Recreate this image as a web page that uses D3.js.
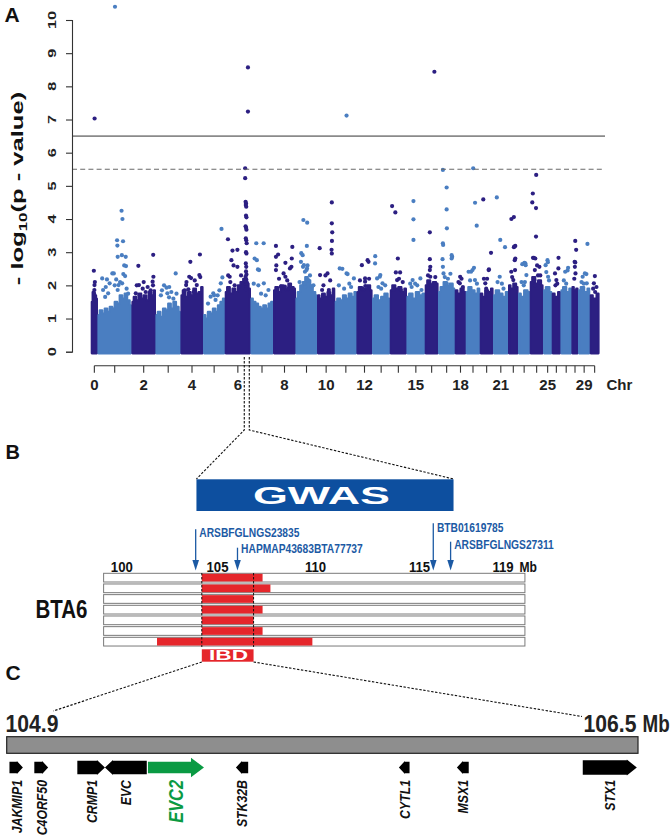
<!DOCTYPE html>
<html><head><meta charset="utf-8">
<script src="https://cdn.jsdelivr.net/npm/d3@7"></script>
<style>
body{margin:0;background:#fff}
svg{display:block}
text{font-family:"Liberation Sans",Arial,Helvetica,sans-serif}
</style>
</head><body>
<svg id="fig" width="672" height="840"></svg>
<script>
// ================= DATA =================
// Panel A: chromosomes 0..30 (0 = unplaced), band widths as drawn
const chromosomes = d3.range(0, 31);
const chrWidth = [6.7,34,24,25,22.6,21.7,25.7,22.6,22.4,21.6,17.7,21.7,15.6,17.7,16.7,18.3,13.3,16.7,11,14,13.3,15,10,11.7,13.3,8.7,8.7,11,6.6,11.7,9.3];
const chrTickLabels = [0,2,4,6,8,10,12,15,18,21,25,29];
const yTickValues = [0,1,2,3,4,5,6,7,8,9,10];
const genomeWideThreshold = 6.5;
const suggestiveThreshold = 5.5;
// top of the dense (solid) SNP cloud along each chromosome, -log10(p)
const denseTop = [
 [1.5,1.8,1.7,1.6],
 [1.1,1.25,1.15,1.3,1.2,1.35,1.3,1.5,1.45,1.7,1.6,1.75,1.55,1.4],
 [1.5,1.65,1.55,1.75,1.6,1.7,1.55,1.8,1.7,1.85],
 [1.1,1.2,1.05,1.3,1.25,1.45,1.3,1.5,1.35,1.2],
 [1.7,1.85,1.65,1.8,1.7,1.9,1.75,1.8,1.95],
 [1.1,1.0,1.2,1.15,1.3,1.2,1.4,1.5,1.6],
 [1.8,1.95,1.75,1.9,1.8,2.0,2.1,2.2,2.05,1.9],
 [1.6,1.5,1.45,1.35,1.3,1.4,1.3,1.45,1.5],
 [1.85,1.95,1.8,2.0,1.9,1.85,2.05,1.95,1.9],
 [1.6,1.8,2.0,2.1,2.25,2.15,2.0,1.8,1.7],
 [1.7,1.6,1.75,1.65,1.8,1.7,1.9],
 [1.5,1.6,1.55,1.7,1.6,1.75,1.65,1.8],
 [1.8,1.95,1.85,1.9,2.0,1.85],
 [1.6,1.7,1.55,1.65,1.75,1.6],
 [1.85,2.0,1.9,1.95,1.8,1.9],
 [1.65,1.75,1.6,1.8,1.7,1.75],
 [2.0,2.15,2.0,2.1,2.05],
 [1.8,1.95,2.1,2.0,2.05,1.9],
 [1.85,1.75,1.9,1.8],
 [1.8,1.95,1.85,1.75,1.9],
 [1.75,1.65,1.85,1.8,1.9],
 [1.7,1.85,1.75,1.65,1.8],
 [2.0,1.9,2.05,1.95],
 [1.75,1.65,1.85,1.8],
 [2.1,2.25,2.05,2.15,2.0],
 [1.85,1.95,1.8],
 [1.75,1.65,1.8],
 [1.85,1.95,1.8,1.9],
 [1.95,1.85,1.9],
 [1.85,1.95,1.8,1.9],
 [1.7,1.6,1.75]
];
// individual SNPs above the dense cloud: [chromosome, relative position, -log10(p)]
const snps = [
[0,.6,7.03],[0,.3,2.44],[0,.55,2.01],[0,.5,1.86],[0,.4,1.75],[0,.7,2.1],
[1,.51,10.4],[1,.73,4.25],[1,.76,4.0],[1,.58,3.36],[1,.59,3.2],[1,.78,3.33],[1,.6,2.86],[1,.74,2.91],[1,.87,2.86],[1,.82,2.6],[1,.88,2.58],[1,.42,2.36],[1,.08,2.21],[1,.24,2.18],[1,.55,2.18],[1,.79,2.34],[1,.85,2.28],[1,.47,2.36],[1,.33,2.06],[1,.63,2.01],[1,.75,2.06],[1,.11,1.86],[1,.28,1.76],[1,.6,1.86],[1,.9,1.9],[1,.18,1.65],[1,.95,1.75],[1,.2,1.95],[1,.5,2.0],[1,.68,2.1],
[2,.23,2.59],[2,.26,2.01],[2,.1,1.76],[2,.28,1.71],[2,.45,1.9],[2,.6,1.8],[2,.98,2.92],[2,.99,2.26],[2,.95,2.11],[2,.97,2.0],[2,.7,1.95],[2,.85,1.85],[2,.15,2.0],[2,.5,2.1],
[3,.42,1.93],[3,.46,1.76],[3,.54,1.64],[3,.86,2.36],[3,.3,2.0],[3,.65,1.8],[3,.15,1.7],[3,.75,1.6],[3,.2,1.85],[3,.55,1.95],[3,.9,1.75],
[4,.41,2.71],[4,.18,2.01],[4,.35,2.26],[4,.45,2.22],[4,.93,2.93],[4,.9,2.31],[4,.95,2.25],[4,.76,2.01],[4,.6,1.8],[4,.3,1.88],[4,.1,1.85],[4,.2,2.1],[4,.65,2.15],
[5,.92,3.7],[5,.3,1.66],[5,.58,1.56],[5,.45,1.76],[5,.88,2.06],[5,.97,2.24],[5,.7,1.7],[5,.15,1.45],[5,.5,1.7],[5,.8,1.85],
[6,.97,8.57],[6,.97,7.24],[6,.84,5.53],[6,.84,5.23],[6,.04,3.39],[6,.2,2.76],[6,.48,3.07],[6,.25,3.05],[6,.3,2.6],[6,.48,2.56],[6,.12,2.26],[6,.35,2.0],[6,.55,1.95],[6,.15,2.1],[6,.05,2.3],[6,.65,2.3],
[6,.86,4.52],[6,.88,4.47],[6,.87,4.42],[6,.89,4.37],[6,.88,4.1],[6,.9,4.05],[6,.86,3.78],[6,.88,3.74],[6,.9,3.68],[6,.87,3.42],[6,.89,3.36],[6,.91,3.27],[6,.88,3.0],[6,.9,2.96],[6,.87,2.66],[6,.89,2.56],[6,.88,2.42],[6,.9,2.33],[6,.86,2.26],[6,.89,2.18],[6,.91,2.1],[6,.87,2.02],[6,.9,1.95],[6,.88,1.88],[6,.93,2.05],[6,.84,2.15],
[7,.19,3.27],[7,.59,3.27],[7,.22,2.76],[7,.28,2.48],[7,.3,2.0],[7,.34,2.46],[7,.1,2.81],[7,.85,1.86],[7,.6,2.06],[7,.45,1.75],[7,.05,2.05],[7,.7,1.7],
[8,.03,3.19],[8,.03,2.86],[8,.15,2.93],[8,.05,2.6],[8,.03,2.46],[8,.55,2.68],[8,.93,3.16],[8,.9,2.81],[8,.88,2.56],[8,.55,2.26],[8,.52,1.96],[8,.3,1.96],[8,.45,2.36],[8,.8,2.51],[8,.7,1.9],[8,.2,2.2],[8,.65,2.15],
[9,.32,3.97],[9,.54,3.89],[9,.18,2.71],[9,.3,2.56],[9,.52,3.19],[9,.56,2.6],[9,.53,2.51],[9,.41,2.41],[9,.2,2.97],[9,.28,2.91],[9,.35,2.61],[9,.5,2.46],[9,.6,2.16],[9,.4,2.06],[9,.42,1.95],[9,.8,1.96],[9,.7,2.3],[9,.1,2.1],[9,.9,2.0],
[10,.02,3.12],[10,.05,2.31],[10,.2,1.86],[10,.6,2.36],[10,.7,1.86],[10,.92,4.5],[10,.92,3.87],[10,.95,3.6],[10,.93,3.34],[10,.9,3.07],[10,.92,2.96],[10,.45,2.3],[10,.3,2.0],[10,.8,2.15],
[11,.54,7.12],[11,.15,2.51],[11,.54,2.36],[11,.3,2.5],[11,.6,2.34],[11,.96,2.21],[11,.4,1.9],[11,.8,1.95],[11,.1,2.0],[11,.7,2.05],
[12,.27,2.61],[12,.55,2.11],[12,.3,1.91],[12,.85,2.71],[12,.77,2.76],[12,.55,2.21],[12,.57,1.98],[12,.1,2.15],[12,.9,2.2],
[13,.06,2.88],[13,.05,2.66],[13,.4,2.26],[13,.44,2.31],[13,.6,2.06],[13,.3,1.95],[13,.2,2.21],[13,.8,2.0],[13,.5,1.9],
[14,.0,4.39],[14,.26,4.2],[14,.46,2.81],[14,.3,2.39],[14,.64,2.39],[14,.4,2.16],[14,.1,1.86],[14,.7,1.86],[14,.55,2.2],[14,.85,2.1],
[15,.33,4.54],[15,.33,3.99],[15,.33,3.37],[15,.27,2.16],[15,.82,2.21],[15,.2,1.95],[15,.9,1.86],[15,.6,2.0],[15,.45,2.05],[15,.1,2.05],
[16,.8,8.44],[16,.3,3.6],[16,.3,2.79],[16,.3,2.46],[16,.35,2.56],[16,.35,2.26],[16,.7,2.06],[16,.5,2.0],[16,.1,2.3],[16,.9,2.25],
[17,.2,5.48],[17,.5,4.95],[17,.5,4.29],[17,.52,3.72],[17,.2,3.27],[17,.22,3.22],[17,.17,2.79],[17,.2,2.56],[17,.94,2.86],[17,.9,2.91],[17,.9,2.81],[17,.25,2.36],[17,.6,2.2],[17,.5,2.06],[17,.8,2.35],[17,.35,2.25],
[18,.45,2.26],[18,.4,2.06],[18,.85,1.95],[18,.2,2.1],[18,.65,2.2],
[19,.52,5.53],[19,.71,4.49],[19,.88,3.8],[19,.05,2.41],[19,.3,2.41],[19,.6,2.53],[19,.45,2.46],[19,.7,2.16],[19,.2,2.15],[19,.9,2.05],
[20,.13,4.59],[20,.98,2.98],[20,.75,2.48],[20,.72,2.46],[20,.35,2.06],[20,.45,1.9],[20,.2,2.2],[20,.55,2.2],
[21,.13,4.65],[21,.45,3.37],[21,.89,3.15],[21,.4,2.26],[21,.75,1.9],[21,.2,2.1],[21,.6,2.05],
[22,.17,4.0],[22,.6,4.06],[22,.6,3.15],[22,.84,3.19],[22,.7,3.17],[22,.85,2.81],[22,.15,2.41],[22,.75,2.76],[22,.8,2.46],[22,.5,2.16],[22,.3,2.25],
[23,.66,2.66],[23,.53,2.68],[23,.25,2.64],[23,.7,2.61],[23,.8,2.31],[23,.6,2.1],[23,.15,2.1],[23,.45,2.0],
[24,.45,5.33],[24,.08,4.77],[24,.02,4.5],[24,.43,4.33],[24,.43,3.47],[24,.1,2.83],[24,.2,2.83],[24,.35,2.81],[24,.3,2.46],[24,.55,2.6],[24,.8,2.56],[24,.25,2.16],[24,.3,2.0],[24,.65,2.3],[24,.9,2.3],
[25,.46,2.76],[25,.05,2.61],[25,.55,2.7],[25,.6,2.26],[25,.2,2.4],[25,.8,2.15],
[26,.98,2.83],[26,.95,2.51],[26,.2,2.36],[26,.5,2.16],[26,.3,2.0],[26,.7,2.05],
[27,.78,2.53],[27,.35,2.41],[27,.7,2.45],[27,.5,2.05],[27,.15,2.15],
[28,.6,3.34],[28,.98,3.07],[28,.6,2.69],[28,.35,2.71],[28,.45,2.56],[28,.7,2.36],[28,.2,2.2],
[29,.94,3.25],[29,.8,2.34],[29,.6,2.36],[29,.3,2.26],[29,.85,2.06],[29,.15,2.1],[29,.45,2.05],
[30,.54,2.28],[30,.35,2.06],[30,.2,1.9],[30,.6,1.8],[30,.85,1.95]
];
// zoomed GWAS window on chromosome 6 (relative position in the band)
const gwasWindowChr = 6;
const gwasWindowRel = [0.75, 0.945];

// Panel B: BTA6 (Mb)
const bta6Ticks = [100,105,110,115,119];
const bta6Span = [99.05, 120.05];
const gwasRegion = [103.9, 116.63];
const ibdRegion = [104.18, 106.84];
const haplotypeIBD = [
 [104.18,107.3],[104.18,107.7],[104.18,106.84],[104.18,107.3],[104.18,106.84],[104.18,107.3],[101.84,109.84]
];
const markerNames = ["ARSBFGLNGS23835","HAPMAP43683BTA77737","BTB01619785","ARSBFGLNGS27311"];
const markerMb = [103.86, 106.02, 115.66, 116.49];

// Panel C: IBD interval genes (Mb)
const ibdInterval = [104.9, 106.5];
const geneNames = ["JAKMIP1","C4ORF50","CRMP1","EVC","EVC2","STK32B","CYTL1","MSX1","STX1"];
const geneStart = [104.907,104.970,105.079,105.149,105.258,105.481,105.894,106.041,106.360];
const geneEnd   = [104.941,105.005,105.149,105.255,105.400,105.512,105.921,106.071,106.497];
const geneStrand = [1,1,1,-1,1,-1,-1,-1,1];
const candidateGene = "EVC2";

// ================= DRAWING =================
const svg = d3.select("#fig");
const DARK = "#2c1f82", LIGHT = "#4a7ec1", BLUE = "#1c5aa4", RED = "#e5262b";

function label(g, s, x, y, o = {}) {
  let tf = `translate(${x},${y})`;
  if (o.rot) tf += ` rotate(${o.rot})`;
  if (o.sx) tf += ` scale(${o.sx},1)`;
  return g.append("text").attr("transform", tf)
    .attr("font-size", o.size || 14)
    .attr("font-weight", o.weight || "bold")
    .attr("font-style", o.italic ? "italic" : null)
    .attr("text-anchor", o.anchor || "start")
    .attr("fill", o.fill || "#111")
    .text(s);
}

// ---------- Panel A ----------
const A = svg.append("g");
const cumStart = [];
chrWidth.reduce((acc, w, i) => { cumStart[i] = acc; return acc + w; }, 0);
const total = d3.sum(chrWidth);
const xA = d3.scaleLinear().domain([0, total]).range([91, 599.3]);
const yA = d3.scaleLinear().domain([0, 10]).range([351.7, 20]);
const chrColor = c => (c % 2 === 0 ? DARK : LIGHT);
const R = 2.1;

const area = d3.area().curve(d3.curveStep).x(d => xA(d[0])).y0(yA(0) + 1.6).y1(d => yA(d[1]));
chromosomes.forEach(c => {
  const w = chrWidth[c], s = cumStart[c], env = denseTop[c];
  const pts = env.map((v, i) => [s + 0.8 + (env.length === 1 ? 0.5 : i / (env.length - 1)) * (w - 1.6), v]);
  A.append("path").attr("d", area(pts))
    .attr("fill", chrColor(c)).attr("stroke", chrColor(c))
    .attr("stroke-width", 2.2).attr("stroke-linejoin", "round");
  A.selectAll(null).data(snps.filter(d => d[0] === c)).join("circle")
    .attr("cx", d => xA(s + R + d[1] * (w - 2 * R)))
    .attr("cy", d => yA(d[2]))
    .attr("r", R).attr("fill", chrColor(c));
});

// thresholds
A.append("line").attr("x1", 72).attr("x2", 605)
  .attr("y1", yA(genomeWideThreshold)).attr("y2", yA(genomeWideThreshold))
  .attr("stroke", "#8a8a8a").attr("stroke-width", 1.6);
A.append("line").attr("x1", 72).attr("x2", 605)
  .attr("y1", yA(suggestiveThreshold)).attr("y2", yA(suggestiveThreshold))
  .attr("stroke", "#6a6a6a").attr("stroke-width", 1.1).attr("stroke-dasharray", "5,3.2");

// y axis
const yAxisG = A.append("g").attr("transform", "translate(72,0)")
  .call(d3.axisLeft(yA).tickValues(yTickValues).tickSize(6).tickFormat(""));
yAxisG.select(".domain").attr("stroke", "#333").attr("stroke-width", 1.1);
yAxisG.selectAll(".tick line").attr("stroke", "#333").attr("stroke-width", 1.1);
yTickValues.forEach(v => {
  label(A, String(v), 55.5, yA(v), { rot: -90, sx: 1.55, size: 10.5, anchor: "middle", fill: "#222" });
});
// y title
const yt = A.append("text")
  .attr("transform", "translate(23.3,188.5) rotate(-90) scale(1.6,1)")
  .attr("text-anchor", "middle").attr("font-size", 16).attr("font-weight", "bold").attr("fill", "#111");
yt.append("tspan").text("- log");
yt.append("tspan").attr("font-size", 10.5).attr("dy", 3.5).text("10");
yt.append("tspan").attr("dy", -3.5).text("(p - value)");

// x axis
const chrCenter = c => xA(cumStart[c] + chrWidth[c] / 2);
const xAxisG = A.append("g").attr("transform", "translate(0,365.7)");
xAxisG.append("line").attr("x1", chrCenter(0)).attr("x2", chrCenter(30))
  .attr("stroke", "#333").attr("stroke-width", 1.1);
xAxisG.selectAll("line.t").data(chromosomes).join("line").attr("class", "t")
  .attr("x1", chrCenter).attr("x2", chrCenter).attr("y1", 0).attr("y2", 7)
  .attr("stroke", "#333").attr("stroke-width", 1.1);
chrTickLabels.forEach(c => label(A, String(c), chrCenter(c), 390, { size: 15, anchor: "middle", fill: "#222" }));
label(A, "Chr", 606.5, 390, { size: 15, fill: "#222" });

label(A, "A", 4.5, 21.7, { size: 21, fill: "#111" });

// ---------- Panel B ----------
const B = svg.append("g");
const xB = d3.scaleLinear().domain(bta6Ticks).range([121.8, 217.5, 315.5, 419.5, 503]);
label(B, "B", 5.5, 458.5, { size: 20, fill: "#111" });

// zoom lines from chromosome 6
const zx0 = xA(cumStart[gwasWindowChr] + gwasWindowRel[0] * chrWidth[gwasWindowChr]);
const zx1 = xA(cumStart[gwasWindowChr] + gwasWindowRel[1] * chrWidth[gwasWindowChr]);
const dash = g => g.attr("stroke", "#111").attr("stroke-width", 1.1).attr("stroke-dasharray", "2.4,1.6").attr("fill", "none");
B.append("path").attr("d", `M${zx0},357 L${zx0},430 L${xB(gwasRegion[0])},479`).call(dash);
B.append("path").attr("d", `M${zx1},357 L${zx1},430 L${xB(gwasRegion[1])},479`).call(dash);

// GWAS box
B.append("rect").attr("x", xB(gwasRegion[0])).attr("y", 479.3)
  .attr("width", xB(gwasRegion[1]) - xB(gwasRegion[0])).attr("height", 31.7).attr("fill", "#0d4f9f");
B.append("text").attr("x", 253).attr("y", 504.2).attr("font-size", 23.5).attr("font-weight", "bold")
  .attr("fill", "#fff").attr("textLength", 137).attr("lengthAdjust", "spacingAndGlyphs").text("GWAS");

// markers
const markerTop = [529.3, 547.7, 523.3, 541.7];
const markerBase = [536.7, 552.7, 532.2, 549.3];
markerNames.forEach((n, i) => {
  const x = xB(markerMb[i]);
  B.append("line").attr("x1", x).attr("x2", x).attr("y1", markerTop[i]).attr("y2", 561)
    .attr("stroke", BLUE).attr("stroke-width", 1.3);
  B.append("path").attr("d", `M${x - 3.3},560 L${x + 3.3},560 L${x},570.5 Z`).attr("fill", BLUE);
  label(B, n, x + 3.6, markerBase[i], { size: 13.5, sx: 0.76, fill: BLUE });
});

// scale labels
bta6Ticks.forEach(t => label(B, String(t), xB(t), 571.5, { size: 15.5, sx: 0.85, anchor: "middle", fill: "#111" }));
label(B, "Mb", 519.5, 571.5, { size: 15.5, sx: 0.78, fill: "#111" });

// haplotype bars
const rowY = i => 573.3 + i * 10.67;
haplotypeIBD.forEach((h, i) => {
  B.append("rect").attr("x", xB(bta6Span[0])).attr("y", rowY(i))
    .attr("width", xB(bta6Span[1]) - xB(bta6Span[0])).attr("height", 8.7)
    .attr("fill", "#fff").attr("stroke", "#7a7a7a").attr("stroke-width", 1);
  B.append("rect").attr("x", xB(h[0])).attr("y", rowY(i) + 0.5)
    .attr("width", xB(h[1]) - xB(h[0])).attr("height", 7.7).attr("fill", RED);
});
ibdRegion.forEach(m => {
  B.append("line").attr("x1", xB(m)).attr("x2", xB(m)).attr("y1", 573).attr("y2", 647)
    .attr("stroke", "#111").attr("stroke-width", 1).attr("stroke-dasharray", "2.4,1.6");
});
label(B, "BTA6", 35.5, 618, { size: 25, sx: 0.82, fill: "#111" });

// IBD box
B.append("rect").attr("x", xB(ibdRegion[0])).attr("y", 649.3)
  .attr("width", xB(ibdRegion[1]) - xB(ibdRegion[0])).attr("height", 12.4).attr("fill", RED);
B.append("text").attr("x", 209).attr("y", 660.3).attr("font-size", 14).attr("font-weight", "bold")
  .attr("fill", "#fff").attr("textLength", 39).attr("lengthAdjust", "spacingAndGlyphs").text("IBD");

// ---------- Panel C ----------
const C = svg.append("g");
const xC = d3.scaleLinear().domain(ibdInterval).range([6.7, 638]);
label(C, "C", 5.5, 680, { size: 21, fill: "#111" });
C.append("path").attr("d", `M${xB(ibdRegion[0])},662 L53.3,711`).call(dash);
C.append("path").attr("d", `M${xB(ibdRegion[1])},662 L582,716.5`).call(dash);

label(C, String(ibdInterval[0]), 5.5, 731.7, { size: 23.5, sx: 0.9, fill: "#222" });
label(C, String(ibdInterval[1]), 583.5, 731.7, { size: 23.5, sx: 0.9, fill: "#222" });
label(C, "Mb", 642.5, 731.7, { size: 23.5, sx: 0.8, fill: "#222" });

C.append("rect").attr("x", xC(ibdInterval[0])).attr("y", 736.7)
  .attr("width", xC(ibdInterval[1]) - xC(ibdInterval[0])).attr("height", 16.6)
  .attr("fill", "#8e8e8e").attr("stroke", "#222").attr("stroke-width", 1.2);

// gene arrows
const geneStyle = {
  JAKMIP1: { h: 11.6, hh: 13, hl: 6 }, C4ORF50: { h: 11.6, hh: 13, hl: 6 },
  CRMP1: { h: 13.3, hh: 15, hl: 8 }, EVC: { h: 13.3, hh: 15, hl: 8 },
  EVC2: { h: 11.5, hh: 19.6, hl: 13 }, STK32B: { h: 11.6, hh: 13, hl: 6 },
  CYTL1: { h: 11.6, hh: 13, hl: 6 }, MSX1: { h: 11.6, hh: 13, hl: 6 },
  STX1: { h: 14.4, hh: 16, hl: 10 }
};
const yMid = 767.5;
geneNames.forEach((n, i) => {
  const st = geneStyle[n];
  const a = xC(geneStart[i]), b = xC(geneEnd[i]);
  const col = n === candidateGene ? "#0a9a43" : "#000";
  let d;
  if (geneStrand[i] > 0) {
    const k = b - st.hl;
    d = `M${a},${yMid - st.h / 2} L${k},${yMid - st.h / 2} L${k},${yMid - st.hh / 2} L${b},${yMid} L${k},${yMid + st.hh / 2} L${k},${yMid + st.h / 2} L${a},${yMid + st.h / 2} Z`;
  } else {
    const k = a + st.hl;
    d = `M${b},${yMid - st.h / 2} L${k},${yMid - st.h / 2} L${k},${yMid - st.hh / 2} L${a},${yMid} L${k},${yMid + st.hh / 2} L${k},${yMid + st.h / 2} L${b},${yMid + st.h / 2} Z`;
  }
  C.append("path").attr("d", d).attr("fill", col);
  const fs = n === candidateGene ? 20 : 15;
  const cx = (a + b) / 2;
  label(C, n, cx + fs * 0.36, 780, { rot: -90, sx: 0.82, size: fs, italic: true, anchor: "end", fill: n === candidateGene ? "#0a9a43" : "#111" });
});
</script>
</body></html>
